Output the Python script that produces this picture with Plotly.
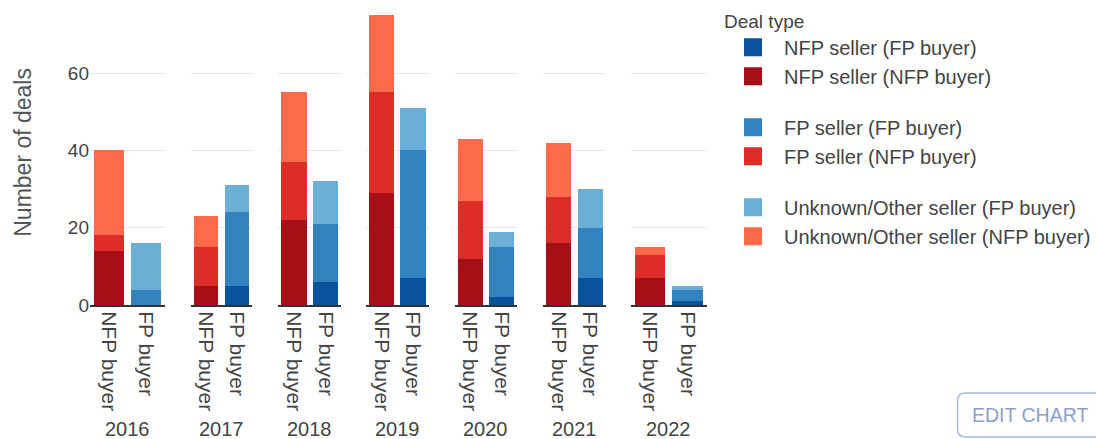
import plotly.graph_objects as go
from plotly.subplots import make_subplots

# Deal counts per year, split by buyer type and seller type
years = ["2016", "2017", "2018", "2019", "2020", "2021", "2022"]
buyer_types = ["NFP buyer", "FP buyer"]

nfp_seller_nfp_buyer = [14, 5, 22, 29, 12, 16, 7]
fp_seller_nfp_buyer = [4, 10, 15, 26, 15, 12, 6]
unknown_seller_nfp_buyer = [22, 8, 18, 20, 16, 14, 2]

nfp_seller_fp_buyer = [0, 5, 6, 7, 2, 7, 1]
fp_seller_fp_buyer = [4, 19, 15, 33, 13, 13, 3]
unknown_seller_fp_buyer = [12, 7, 11, 11, 4, 10, 1]

# (legend name, legend group, buyer type, values, colour) in stacking order
series = [
    ("NFP seller (FP buyer)", "nfp", "FP buyer", nfp_seller_fp_buyer, "#08519c"),
    ("NFP seller (NFP buyer)", "nfp", "NFP buyer", nfp_seller_nfp_buyer, "#a50f15"),
    ("FP seller (FP buyer)", "fp", "FP buyer", fp_seller_fp_buyer, "#3182bd"),
    ("FP seller (NFP buyer)", "fp", "NFP buyer", fp_seller_nfp_buyer, "#de2d26"),
    ("Unknown/Other seller (FP buyer)", "unk", "FP buyer", unknown_seller_fp_buyer, "#6baed6"),
    ("Unknown/Other seller (NFP buyer)", "unk", "NFP buyer", unknown_seller_nfp_buyer, "#fb6a4a"),
]

FONT = "Liberation Sans, Arial, sans-serif"
TEXT = "#444"

fig = make_subplots(rows=1, cols=len(years), shared_yaxes=True)

for i, year in enumerate(years):
    for name, group, buyer, values, color in series:
        fig.add_trace(
            go.Bar(
                x=[buyer],
                y=[values[i]],
                name=name,
                legendgroup=group,
                showlegend=False,
                marker=dict(color=color, line=dict(width=0)),
                hovertemplate=f"{year} %{{x}}<br>{name}: %{{y}}<extra></extra>",
            ),
            row=1,
            col=i + 1,
        )

# Legend entries with larger square swatches
for name, group, buyer, values, color in series:
    fig.add_trace(
        go.Scatter(
            x=[None],
            y=[None],
            mode="markers",
            name=name,
            legendgroup=group,
            marker=dict(symbol="square", size=16, color=color, line=dict(width=2, color=color)),
            hoverinfo="skip",
        ),
        row=1,
        col=1,
    )

domains = [
    [0.0, 0.0746],
    [0.1004, 0.1620],
    [0.1879, 0.2505],
    [0.2753, 0.3380],
    [0.3638, 0.4264],
    [0.4523, 0.5149],
    [0.5398, 0.6153],
]

for i, dom in enumerate(domains):
    key = "xaxis" if i == 0 else f"xaxis{i + 1}"
    fig.layout[key].update(
        domain=dom,
        type="category",
        categoryorder="array",
        categoryarray=buyer_types,
        range=[-0.5, 1.5],
        tickangle=90,
        tickfont=dict(family=FONT, size=21, color=TEXT),
        showline=True,
        linecolor="#333",
        linewidth=2,
        showgrid=False,
        ticks="",
        fixedrange=True,
    )
    # year label centred under each panel
    fig.add_annotation(
        text=years[i],
        xref=f"x{'' if i == 0 else i + 1} domain",
        yref="paper",
        x=0.5,
        xanchor="center",
        y=0,
        yanchor="middle",
        yshift=-124,
        showarrow=False,
        font=dict(family=FONT, size=20, color=TEXT),
    )

fig.update_yaxes(
    range=[0, 78.9],
    tickvals=[0, 20, 40, 60],
    showgrid=True,
    gridcolor="#e8e8e8",
    gridwidth=1,
    zeroline=False,
    ticks="",
    tickfont=dict(family=FONT, size=19, color=TEXT),
    fixedrange=True,
)

fig.add_annotation(
    text="Number of deals",
    xref="paper",
    yref="paper",
    x=-0.0676,
    xanchor="center",
    y=0.5,
    yanchor="middle",
    textangle=-90,
    showarrow=False,
    font=dict(family=FONT, size=23, color="#555"),
)

# "EDIT CHART" button in the lower right corner
bx0, bx1 = 0.8658, 1.02
by0, by1 = -0.4328, -0.2885
rx, ry = 0.008, 0.026
button_path = (
    f"M {bx0 + rx} {by1} L {bx1 - rx} {by1} Q {bx1} {by1} {bx1} {by1 - ry} "
    f"L {bx1} {by0 + ry} Q {bx1} {by0} {bx1 - rx} {by0} "
    f"L {bx0 + rx} {by0} Q {bx0} {by0} {bx0} {by0 + ry} "
    f"L {bx0} {by1 - ry} Q {bx0} {by1} {bx0 + rx} {by1} Z"
)
fig.add_shape(
    type="path",
    path=button_path,
    xref="paper",
    yref="paper",
    line=dict(color="#a9b8dc", width=1.5),
    fillcolor="rgba(255,255,255,0)",
)
fig.add_annotation(
    text="EDIT CHART",
    xref="paper",
    yref="paper",
    x=(1034 - 90) / 1006,
    xanchor="center",
    y=(305 - 415) / 305,
    yanchor="middle",
    showarrow=False,
    font=dict(family=FONT, size=19.5, color="#8a9fd0"),
)

fig.update_layout(
    width=1096,
    height=439,
    margin=dict(l=90, r=0, t=0, b=134),
    barmode="stack",
    bargap=0.2,
    plot_bgcolor="white",
    paper_bgcolor="white",
    font=dict(family=FONT, color=TEXT),
    legend=dict(
        title=dict(text="Deal type", font=dict(family=FONT, size=19, color=TEXT)),
        font=dict(family=FONT, size=20, color=TEXT),
        x=0.631,
        xanchor="left",
        y=1.0 - 3 / 305,
        yanchor="top",
        traceorder="grouped",
        tracegroupgap=22,
        itemsizing="trace",
        itemwidth=52,
        bgcolor="rgba(0,0,0,0)",
    ),
)

fig.write_html("out.html", config={"displayModeBar": False})
